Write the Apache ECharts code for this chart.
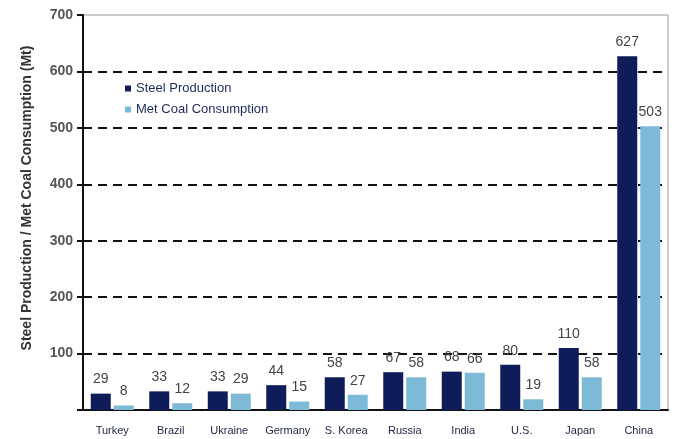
<!DOCTYPE html>
<html><head><meta charset="utf-8">
<script src="https://cdn.jsdelivr.net/npm/echarts@6/dist/echarts.min.js"></script>
<style>html,body{margin:0;padding:0;background:#fff}#c{width:675px;height:439px}</style>
</head><body><div id="c"></div>
<script>
const categories = ['Turkey','Brazil','Ukraine','Germany','S. Korea','Russia','India','U.S.','Japan','China'];
const steelProduction = [29,33,33,44,58,67,68,80,110,627];
const metCoalConsumption = [8,12,29,15,27,58,66,19,58,503];
const yTicks = [0,100,200,300,400,500,600,700];
const yAxisTitle = 'Steel Production / Met Coal Consumption (Mt)';

const FONT = '"Liberation Sans", Arial, sans-serif';
const chart = echarts.init(document.getElementById('c'));
chart.setOption({
  animation:false,
  textStyle:{fontFamily:FONT},
  grid:{left:83,right:7,top:15,bottom:29,show:true,borderColor:'#999',borderWidth:1,containLabel:false},
  graphic:[{
    type:'text',x:27,y:198,rotation:Math.PI/2,
    style:{text:yAxisTitle,fontFamily:FONT,fontSize:14,fontWeight:'bold',fill:'#333',
      align:'center',verticalAlign:'middle'}
  }],
  legend:{
    orient:'vertical',left:120,top:77,itemWidth:6,itemHeight:6,itemGap:8,icon:'rect',
    textStyle:{fontFamily:FONT,fontSize:13,color:'#1b2a5c'},
    data:['Steel Production','Met Coal Consumption']
  },
  xAxis:{
    type:'category',data:categories,
    axisLine:{lineStyle:{color:'#111',width:2}},
    axisTick:{show:false},
    axisLabel:{interval:0,fontFamily:FONT,fontSize:11,color:'#1e2545',margin:15}
  },
  yAxis:{
    type:'value',min:yTicks[0],max:yTicks[yTicks.length-1],interval:100,
    axisLine:{show:true,lineStyle:{color:'#111',width:2}},
    axisTick:{show:true,length:6,lineStyle:{color:'#111',width:2}},
    axisLabel:{fontFamily:FONT,fontSize:14,fontWeight:'bold',color:'#555',margin:10,
      formatter:v=>v===0?'':String(v)},
    splitLine:{show:true,showMinLine:false,showMaxLine:false,lineStyle:{color:'#111',type:[9,6],width:2}}
  },
  series:[
    {name:'Steel Production',type:'bar',data:steelProduction,barWidth:20,barGap:'15%',
      itemStyle:{color:'#0e1d5a'},
      label:{show:true,position:'top',distance:7,fontFamily:FONT,fontSize:14,color:'#444'}},
    {name:'Met Coal Consumption',type:'bar',data:metCoalConsumption,barWidth:20,
      itemStyle:{color:'#7cbad8'},
      label:{show:true,position:'top',distance:7,fontFamily:FONT,fontSize:14,color:'#444'}}
  ]
});
</script></body></html>
